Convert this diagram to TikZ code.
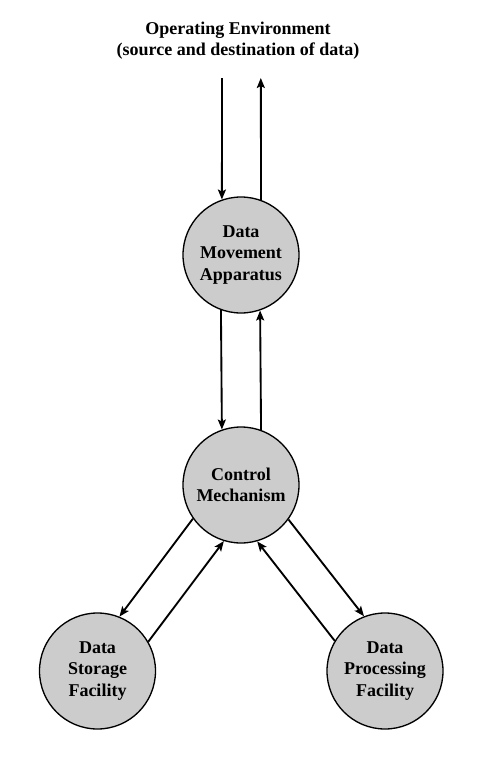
\documentclass[tikz,border=0pt]{standalone}
\usepackage{fontspec}
\setmainfont{Liberation Serif}
\usetikzlibrary{arrows.meta}
\begin{document}
\begin{tikzpicture}[x=0.75pt,y=-0.75pt,
  unit/.style={circle,draw=black,line width=1pt,fill={rgb,255:red,204;green,204;blue,204},
    minimum size=87pt,inner sep=0pt,align=center,
    font=\fontsize{13.5pt}{16pt}\selectfont\bfseries},
  flow/.style={line width=1.4pt,-{Stealth[length=7.5pt,width=6pt,inset=1.5pt]}},
  title/.style={align=center,font=\fontsize{13.5pt}{16pt}\selectfont\bfseries}]
\useasboundingbox (0,0) rectangle (478,764);
\node[title] (env) at (238,41) {Operating Environment\\(source and destination of data)};
\node[unit] (dm) at (241,255) {Data\\Movement\\Apparatus};
\node[unit] (cm) at (241,485) {Control\\Mechanism};
\node[unit] (ds) at (97.5,671) {Data\\Storage\\Facility};
\node[unit] (dp) at (385,671) {Data\\Processing\\Facility};
\coordinate (in) at (222,78);
\coordinate (out) at (260.8,78);
\draw[flow] (in) -- (dm.109.1);
\draw[flow] (dm.70.9) -- (out);
\draw[flow] (dm.250.9) -- (cm.109.1);
\draw[flow] (cm.70.9) -- (dm.289.1);
\draw[flow] (cm.215.3) -- (ds.68.3);
\draw[flow] (ds.30.7) -- (cm.253.7);
\draw[flow] (cm.324.7) -- (dp.111.7);
\draw[flow] (dp.149.3) -- (cm.286.3);
\end{tikzpicture}
\end{document}
